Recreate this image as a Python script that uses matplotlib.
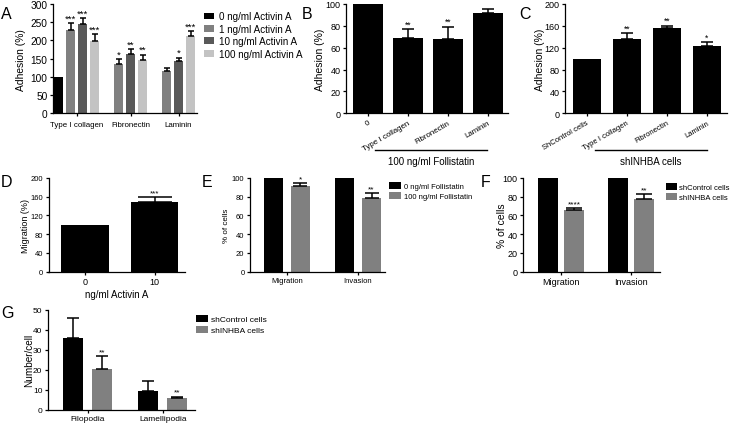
import numpy as np
import matplotlib
matplotlib.use("Agg")
import matplotlib.pyplot as plt
from matplotlib.patches import Patch
from matplotlib.lines import Line2D

plt.rcParams['font.family'] = ['Liberation Sans', 'DejaVu Sans']

# ---------------- data ----------------
# Panel A
a_groups = ["Type I collagen", "Fibronectin", "Laminin"]
a_series = ["0 ng/ml Activin A", "1 ng/ml Activin A", "10 ng/ml Activin A", "100 ng/ml Activin A"]
a_0ng = [100, np.nan, np.nan]
a_1ng = [228, 134, 115]
a_10ng = [244, 163, 144]
a_100ng = [198, 147, 211]
a_0ng_err = [0, np.nan, np.nan]
a_1ng_err = [20, 14, 8]
a_10ng_err = [17, 13, 9]
a_100ng_err = [19, 14, 14]
a_0ng_sig = ["", "", ""]
a_1ng_sig = ["***", "*", ""]
a_10ng_sig = ["***", "**", "*"]
a_100ng_sig = ["***", "**", "***"]
a_yticks = [0, 50, 100, 150, 200, 250, 300]

# Panel B
b_cats = ["0", "Type I collagen", "Fibronectin", "Laminin"]
b_vals = [100, 68.5, 67.7, 91.8]
b_errs = [0, 8.5, 11.5, 3.6]
b_sig = ["", "**", "**", ""]
b_yticks = [0, 20, 40, 60, 80, 100]
b_label = "100 ng/ml Follistatin"

# Panel C
c_cats = ["ShControl cells", "Type I collagen", "Fibronectin", "Laminin"]
c_vals = [100, 136, 155.5, 123]
c_errs = [0, 11, 5, 7]
c_sig = ["", "**", "**", "*"]
c_yticks = [0, 40, 80, 120, 160, 200]
c_label = "shINHBA cells"

# Panel D
d_cats = ["0", "10"]
d_vals = [100, 149.5]
d_errs = [0, 9]
d_sig = ["", "***"]
d_yticks = [0, 40, 80, 120, 160, 200]

# Panel E
e_cats = ["Migration", "Invasion"]
e_series = ["0 ng/ml Follistatin", "100 ng/ml Follistatin"]
e_ctrl = [100, 100]
e_treat = [91.8, 78.6]
e_treat_err = [2.5, 5.0]
e_sig = ["*", "**"]

# Panel F
f_cats = ["Migration", "Invasion"]
f_series = ["shControl cells", "shINHBA cells"]
f_ctrl = [100, 100]
f_treat = [66.3, 77.7]
f_treat_err = [2.0, 5.2]
f_sig = ["****", "**"]
ef_yticks = [0, 20, 40, 60, 80, 100]

# Panel G
g_cats = ["Filopodia", "Lamellipodia"]
g_series = ["shControl cells", "shINHBA cells"]
g_ctrl = [36, 9.5]
g_ctrl_err = [10, 5]
g_treat = [20.2, 5.7]
g_treat_err = [6.6, 0.9]
g_sig = ["**", "**"]
g_yticks = [0, 10, 20, 30, 40, 50]

# ---------------- layout helpers ----------------
W, H = 733, 431
fig = plt.figure(figsize=(W / 100, H / 100), dpi=100)


def px_axes(l, r, t, b):
    return fig.add_axes([l / W, 1 - b / H, (r - l) / W, (b - t) / H])


def fx(x):
    return x / W


def fy(y):
    return 1 - y / H


BLACK = "#000000"
GRAY = "#808080"
DGRAY = "#595959"
LGRAY = "#c3c3c3"
LW = 0.9


def style(ax, yticks, tsize):
    for s in ("top", "right"):
        ax.spines[s].set_visible(False)
    for s in ("left", "bottom"):
        ax.spines[s].set_linewidth(LW)
    ax.set_ylim(yticks[0], yticks[-1])
    ax.set_yticks(yticks)
    ax.tick_params(direction="out", length=2.5, width=LW, labelsize=tsize, pad=1.5)


def errs(ax, x, y, e, cs):
    y = np.asarray(y, float)
    e = np.asarray(e, float)
    m = np.isfinite(y) & np.isfinite(e) & (e > 0)
    x = np.asarray(x, float)
    ax.errorbar(x[m], y[m], yerr=[np.zeros(m.sum()), e[m]], fmt="none",
                ecolor="black", elinewidth=1.1, capsize=cs, capthick=1.1, zorder=3)


def stars(ax, x, y, e, sig, fs=6):
    for xi, yi, ei, s in zip(x, y, e, sig):
        if s and np.isfinite(yi):
            top = yi + (ei if np.isfinite(ei) else 0)
            ax.annotate(s, (xi, top), xytext=(0, 0.5), textcoords="offset points",
                        ha="center", va="bottom", fontsize=fs)


def ylabel(ax, text, xpx, size):
    fig.text(fx(xpx), (ax.get_position().y0 + ax.get_position().y1) / 2, text,
             rotation=90, ha="center", va="center", fontsize=size)


def letter(text, xpx, ypx):
    fig.text(fx(xpx), fy(ypx), text, fontsize=11.5, ha="left", va="top")


# ---------------- Panel A ----------------
axA = px_axes(53, 197, 5, 114.3)
a_vals = [a_0ng, a_1ng, a_10ng, a_100ng]
a_errs = [a_0ng_err, a_1ng_err, a_10ng_err, a_100ng_err]
a_sigs = [a_0ng_sig, a_1ng_sig, a_10ng_sig, a_100ng_sig]
a_colors = [BLACK, GRAY, DGRAY, LGRAY]
slot = 0
a_pos = [[np.nan] * len(a_groups) for _ in a_series]
a_centers = []
for gi in range(len(a_groups)):
    present = []
    for si in range(len(a_series)):
        if np.isfinite(a_vals[si][gi]):
            a_pos[si][gi] = slot
            present.append(slot)
            slot += 1
    a_centers.append(np.mean(present))
    slot += 1
for si in range(len(a_series)):
    axA.bar(a_pos[si], a_vals[si], width=0.8, color=a_colors[si], label=a_series[si], zorder=2)
    errs(axA, a_pos[si], a_vals[si], a_errs[si], 2.2)
    stars(axA, a_pos[si], a_vals[si], a_errs[si], a_sigs[si], fs=6.8)
axA.set_xlim(-0.46, 11.54)
style(axA, a_yticks, 7.3)
axA.set_xticks(a_centers)
axA.set_xticklabels(a_groups, fontsize=5.7)
axA.tick_params(axis="x", pad=3)
ylabel(axA, "Adhesion (%)", 21, 7.4)
letter("A", 1, 7)
handles = [Patch(facecolor=c, edgecolor="none") for c in a_colors]
fig.legend(handles, a_series, loc="upper left", bbox_to_anchor=(fx(198), fy(6)),
           frameon=False, fontsize=7.1, handlelength=1.0, handleheight=0.7,
           labelspacing=0.24, handletextpad=0.5, borderpad=0.15)

# ---------------- Panel B ----------------
axB = px_axes(346, 508, 5, 114.3)
xb = np.arange(len(b_cats))
axB.bar(xb, b_vals, width=0.75, color=BLACK, zorder=2)
errs(axB, xb, b_vals, b_errs, 4.5)
stars(axB, xb, b_vals, b_errs, b_sig, fs=6.2)
axB.set_xlim(-0.55, 3.5)
style(axB, b_yticks, 6.5)
axB.set_xticks(xb)
axB.set_xticklabels(b_cats, fontsize=5.7, rotation=30, ha="right", va="top",
                    rotation_mode="anchor")
ylabel(axB, "Adhesion (%)", 320, 7.5)
letter("B", 302, 7)
fig.add_artist(Line2D([fx(375), fx(487)], [fy(151), fy(151)], color="black", lw=1.0))
fig.text(fx(431), fy(162), b_label, ha="center", va="center", fontsize=7)

# ---------------- Panel C ----------------
axC = px_axes(565, 727, 5, 114.3)
xc = np.arange(len(c_cats))
axC.bar(xc, c_vals, width=0.7, color=BLACK, zorder=2)
errs(axC, xc, c_vals, c_errs, 4.5)
stars(axC, xc, c_vals, c_errs, c_sig, fs=6.2)
axC.set_xlim(-0.54, 3.5)
style(axC, c_yticks, 6.5)
axC.set_xticks(xc)
axC.set_xticklabels(c_cats, fontsize=5.5, rotation=30, ha="right", va="top",
                    rotation_mode="anchor")
ylabel(axC, "Adhesion (%)", 540, 7.5)
letter("C", 519, 7)
fig.add_artist(Line2D([fx(595), fx(707)], [fy(151), fy(151)], color="black", lw=1.0))
fig.text(fx(651), fy(162), c_label, ha="center", va="center", fontsize=7)

# ---------------- Panel D ----------------
axD = px_axes(48.5, 185, 179, 272.7)
xd = np.arange(len(d_cats))
axD.bar(xd, d_vals, width=0.69, color=BLACK, zorder=2)
errs(axD, xd, d_vals, d_errs, 12)
stars(axD, xd, d_vals, d_errs, d_sig, fs=5.8)
axD.set_xlim(-0.53, 1.44)
style(axD, d_yticks, 5.5)
axD.set_xticks(xd)
axD.set_xticklabels(d_cats, fontsize=6.5)
axD.set_xlabel("ng/ml Activin A", fontsize=7, labelpad=2)
ylabel(axD, "Migration (%)", 26, 6.5)
letter("D", 1, 175)


# ---------------- Panels E/F/G (two-series grouped) ----------------
def two_series(ax, cats, ctrl, ctrl_err, treat, treat_err, sig, off, width, cs, fs):
    x = np.arange(len(cats))
    ax.bar(x - off, ctrl, width=width, color=BLACK, zorder=2)
    ax.bar(x + off, treat, width=width, color=GRAY, zorder=2)
    errs(ax, x - off, ctrl, ctrl_err, cs)
    errs(ax, x + off, treat, treat_err, cs)
    stars(ax, x + off, treat, treat_err, sig, fs=6)
    ax.set_xticks(x)
    ax.set_xticklabels(cats, fontsize=fs)


axE = px_axes(250, 385, 179, 272.7)
two_series(axE, e_cats, e_ctrl, [0, 0], e_treat, e_treat_err, e_sig, 0.19, 0.275, 5, 6.3)
axE.set_xlim(-0.52, 1.38)
style(axE, ef_yticks, 5.5)
ylabel(axE, "% of cells", 227, 5.8)
letter("E", 202, 175)
fig.legend([Patch(facecolor=BLACK), Patch(facecolor=GRAY)], e_series, loc="upper left",
           bbox_to_anchor=(fx(384), fy(178)), frameon=False, fontsize=5.5,
           handlelength=1.5, handleheight=0.9, labelspacing=0.3,
           handletextpad=0.4, borderpad=0.2)

axF = px_axes(523, 660, 179, 272.7)
two_series(axF, f_cats, f_ctrl, [0, 0], f_treat, f_treat_err, f_sig, 0.186, 0.286, 6, 7.3)
axF.set_xlim(-0.54, 1.41)
style(axF, ef_yticks, 6.5)
ylabel(axF, "% of cells", 502, 7.5)
letter("F", 481, 175)
fig.legend([Patch(facecolor=BLACK), Patch(facecolor=GRAY)], f_series, loc="upper left",
           bbox_to_anchor=(fx(661), fy(179)), frameon=False, fontsize=5.5,
           handlelength=1.35, handleheight=0.9, labelspacing=0.3,
           handletextpad=0.35, borderpad=0.2)

axG = px_axes(48, 195, 310.7, 410.7)
two_series(axG, g_cats, g_ctrl, g_ctrl_err, g_treat, g_treat_err, g_sig, 0.193, 0.267, 4, 7.1)
axG.set_xlim(-0.53, 1.43)
style(axG, g_yticks, 6)
ylabel(axG, "Number/cell", 29, 7.2)
letter("G", 1, 306)
fig.legend([Patch(facecolor=BLACK), Patch(facecolor=GRAY)], g_series, loc="upper left",
           bbox_to_anchor=(fx(190), fy(310)), frameon=False, fontsize=6,
           handlelength=1.4, handleheight=0.9, labelspacing=0.3,
           handletextpad=0.4, borderpad=0.2)

fig.savefig("out.png", dpi=100)
